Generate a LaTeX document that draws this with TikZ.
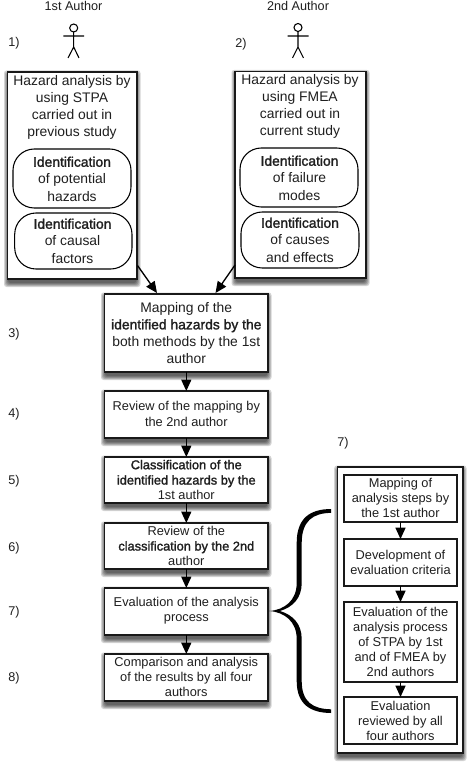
\documentclass[tikz,border=0pt]{standalone}
\usepackage{fontspec}
\setmainfont{Liberation Sans}
\newfontfamily\fbf[FakeBold=1.6]{Liberation Sans}
\newcommand{\fb}[1]{{\fbf #1}}
\usetikzlibrary{arrows.meta}
\tikzset{
  x=0.75pt,y=-0.75pt,
  txt/.style={font=\fontsize{9.6pt}{11.5pt}\selectfont,align=center,inner sep=0pt,text=black!88},
  bigtxt/.style={font=\fontsize{10.4pt}{12.9pt}\selectfont,align=center,inner sep=0pt,text=black!88},
  lab/.style={font=\fontsize{9.5pt}{12pt}\selectfont,inner sep=0pt,text=black!88},
  boxs/.style={draw=black!90,fill=white,line width=1.15pt},
  plainbox/.style={draw=black!90,fill=white,line width=0.95pt},
  pill/.style={draw=black,fill=white,line width=0.8pt,rounded corners=16pt},
  conn/.style={draw=black,line width=1pt,-{Triangle[length=8.5pt,width=7.5pt]}},
  person/.style={draw=black,line width=0.8pt},
  shade/.style={fill=black,opacity=.17,rounded corners=2pt},
}
\newcommand{\bx}[6][txt]{%
  \foreach \d in {0.5,1.5,...,4.5} {
    \path[shade] (#3-\d+1,#4+3-\d) rectangle (#5+\d-1,#6+3.5+\d);
  }
  \path[boxs] (#3,#4) rectangle (#5,#6);
}
\begin{document}
\begin{tikzpicture}
\useasboundingbox (0,0) rectangle (473,766);
\fill[white] (0,0) rectangle (473,766);
% headers
\node[lab] (a1) at (73.5,6) {1st Author};
\node[lab] (a2) at (298,6) {2nd Author};
\node[lab] (n1) at (14,43) {1)};
\node[lab] (n2) at (241,44) {2)};
% persons
\draw[person] (73.7,28) circle (4);
\draw[person] (73.7,32) -- (73.7,47) (63.3,36) -- (84,36) (68,58) -- (73.7,47) -- (79,58);
\draw[person] (298,27.5) circle (4);
\draw[person] (298,31.5) -- (298,47) (287.5,36) -- (308.5,36) (292.5,58) -- (298,47) -- (303.5,58);
% left group
\bx{L}{7.5}{72}{137}{279}{}
\node[bigtxt] (Lt) at (72,107.5) {Hazard analysis by\\using STPA\\carried out in\\previous study};
\path[pill] (13,149) rectangle (131,208);
\node[bigtxt] (Lp1) at (72,179) {\fb{Identification}\\of potential\\hazards};
\path[pill] (14.7,213) rectangle (132,269);
\node[bigtxt] (Lp2) at (72.5,241) {\fb{Identification}\\of causal\\factors};
% right group
\bx{R}{235}{71.5}{366}{278}{}
\node[bigtxt] (Rt) at (300,106.5) {Hazard analysis by\\using FMEA\\carried out in\\current study};
\path[pill] (240,148) rectangle (358,207);
\node[bigtxt] (Rp1) at (299.5,178) {\fb{Identification}\\of failure\\modes};
\path[pill] (241,212) rectangle (359,268);
\node[bigtxt] (Rp2) at (300,240) {\fb{Identification}\\of causes\\and effects};
% main column
\bx{A}{104.5}{294}{268}{372}{}
\node[bigtxt] (A) at (186.3,333) {Mapping of the\\\fb{identified hazards by the}\\both methods by the 1st\\author};
\bx{B}{104.5}{391}{268}{438}{}
\node[txt] (B) at (186.3,414) {Review of the mapping by\\the 2nd author};
\bx{C}{104.5}{457}{268}{503}{}
\node[txt] (C) at (186.3,480) {\fb{Classification of the}\\\fb{identified hazards by the}\\1st author};
\bx{D}{104.5}{523}{268}{569}{}
\node[txt] (D) at (186.3,546) {Review of the\\\fb{classification by the 2nd}\\author};
\bx{E}{104.5}{588}{268}{635}{}
\node[txt] (E) at (186.3,611) {Evaluation of the analysis\\process};
\bx{F}{104.5}{654}{268}{701}{}
\node[txt] (F) at (186.3,677) {Comparison and analysis\\of the results by all four\\authors};
\node[lab] (n3) at (14,334) {3)};
\node[lab] (n4) at (14,414) {4)};
\node[lab] (n5) at (14,481) {5)};
\node[lab] (n6) at (14,548) {6)};
\node[lab] (n7) at (14,612) {7)};
\node[lab] (n8) at (14,678) {8)};
% connectors
\coordinate (Lc) at (137.5,265.5);
\coordinate (Rc) at (235,265);
\coordinate (Ae1) at (157,293);
\coordinate (Ae2) at (215.5,293);
\coordinate (AS) at (186.3,372);
\coordinate (BN) at (186.3,391);
\coordinate (BS) at (186.3,438);
\coordinate (CN) at (186.3,457);
\coordinate (CS) at (186.3,503);
\coordinate (DN) at (186.3,523);
\coordinate (DS) at (186.3,569);
\coordinate (EN) at (186.3,588);
\coordinate (ES) at (186.3,635);
\coordinate (FN) at (186.3,654);
\draw[conn] (Lc) -- (Ae1);
\draw[conn] (Rc) -- (Ae2);
\draw[conn] (AS) -- (BN);
\draw[conn] (BS) -- (CN);
\draw[conn] (CS) -- (DN);
\draw[conn] (DS) -- (EN);
\draw[conn] (ES) -- (FN);
% right panel
\node[lab] (n7b) at (343,443) {7)};
\bx{P}{337.7}{467}{463}{753}{}
\tikzset{ptxt/.style={txt,font=\fontsize{9.6pt}{11.3pt}\selectfont}}
\path[plainbox] (344,475) rectangle (457,522);
\node[ptxt] (G) at (400.5,498) {Mapping of\\analysis steps by\\the 1st author};
\path[plainbox] (344,539) rectangle (457,586);
\node[ptxt] (H) at (400.5,562.5) {Development of\\evaluation criteria};
\path[plainbox] (344,602) rectangle (457,682);
\node[ptxt] (I) at (400.5,642) {Evaluation of the\\analysis process\\of STPA by 1st\\and of FMEA by\\2nd authors};
\path[plainbox] (344,697) rectangle (457,744);
\node[ptxt] (J) at (400.5,720.5) {Evaluation\\reviewed by all\\four authors};
\coordinate (GS) at (400.5,522);
\coordinate (HN) at (400.5,539);
\coordinate (HS) at (400.5,586);
\coordinate (IN) at (400.5,602);
\coordinate (IS) at (400.5,682);
\coordinate (JN) at (400.5,697);
\draw[conn] (GS) -- (HN);
\draw[conn] (HS) -- (IN);
\draw[conn] (IS) -- (JN);
% brace
\fill[black] (331,509) .. controls (310,509.2) and (296.7,518) .. (296.7,543)
  -- (296.7,583) .. controls (296.7,600) and (285,610) .. (269,611)
  .. controls (285,612) and (296.7,622) .. (296.7,639)
  -- (296.7,681) .. controls (296.7,704) and (310,712.8) .. (331,713)
  -- (331,709.3) .. controls (313,709) and (301.7,702) .. (301.7,681)
  -- (301.7,639) .. controls (301.7,624) and (293,615) .. (280,611)
  .. controls (293,607) and (301.7,598) .. (301.7,583)
  -- (301.7,543) .. controls (301.7,521) and (313,513) .. (331,512.9) -- cycle;
\end{tikzpicture}
\end{document}
